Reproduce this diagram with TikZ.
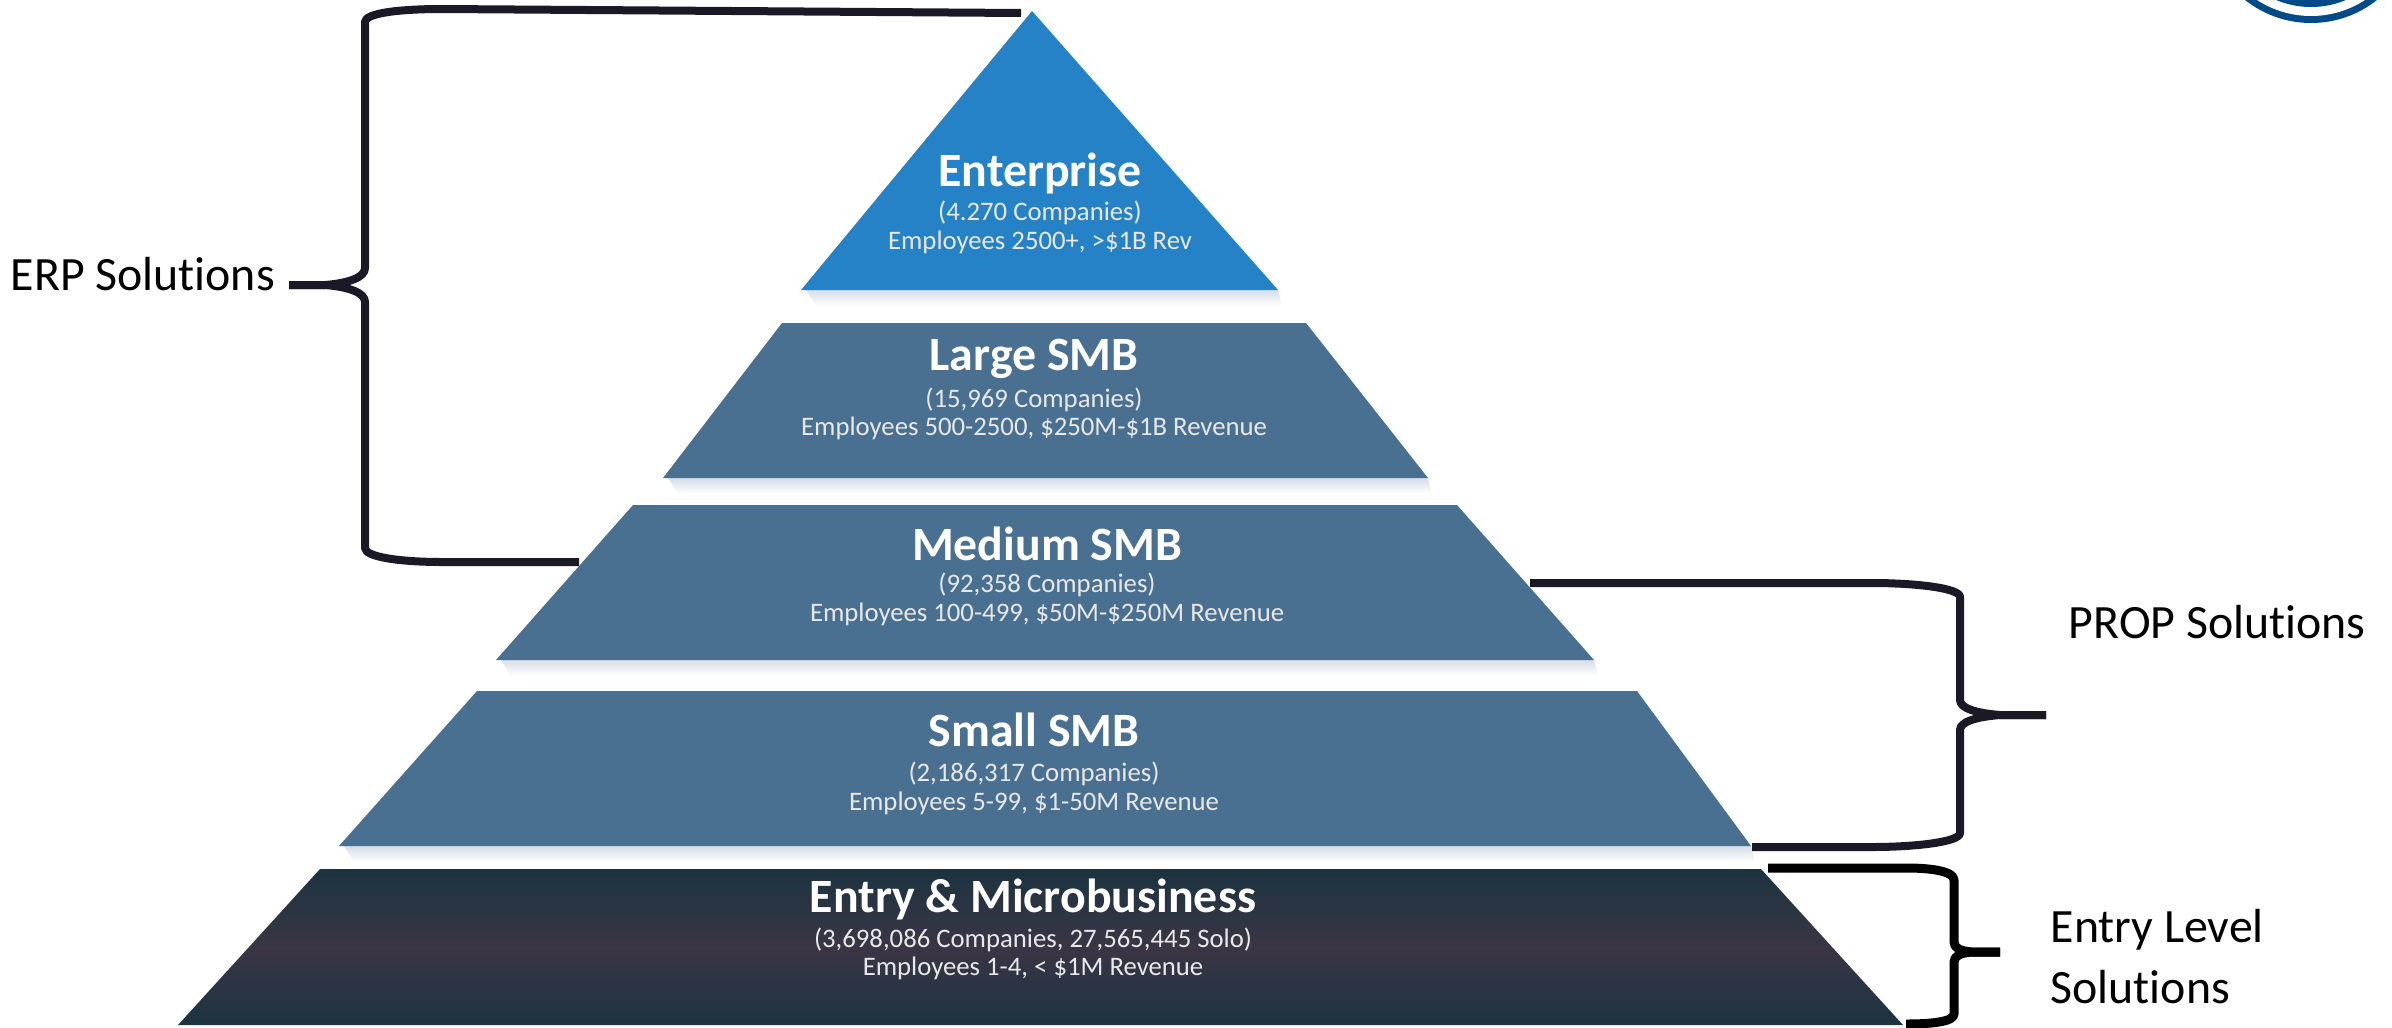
\documentclass[tikz,border=0pt]{standalone}
\usepackage{fontspec}
\setmainfont{Carlito}[Ligatures=CommonOff]
\usetikzlibrary{arrows}
\definecolor{enterpriseblue}{rgb}{0.15,0.51,0.78}
\definecolor{smbblue}{rgb}{0.29,0.44,0.57}
\definecolor{entrydark}{rgb}{0.11,0.20,0.25}
\definecolor{entrymid}{rgb}{0.23,0.21,0.27}
\definecolor{bracedark}{rgb}{0.11,0.10,0.15}
\definecolor{logoblue}{rgb}{0,0.29,0.53}
\definecolor{softshadow}{rgb}{0.84,0.87,0.90}
\definecolor{subgrey}{rgb}{0.91,0.91,0.91}
\tikzset{
  bandtitle/.style={text=white,font=\bfseries\fontsize{13.6pt}{15pt}\selectfont,inner sep=0pt},
  bandtext/.style={text=subgrey,font=\fontsize{7.6pt}{9pt}\selectfont,inner sep=0pt},
  sidelabel/.style={text=black,font=\fontsize{13.6pt}{15pt}\selectfont,inner sep=0pt},
  bracepath/.style={line width=8*0.01cm,color=bracedark,line join=round},
  entrybrace/.style={line width=9*0.01cm,color=black,line join=round},
  bandedge/.style={top color=softshadow,bottom color=white}
}

\begin{document}
\begin{tikzpicture}[line cap=butt,x=0.01cm,y=-0.01cm]
  \useasboundingbox (0,0) rectangle (2392,1027);
  % logo at the corner
  \begin{scope}
    \clip (2150,0) rectangle (2392,60);
    \fill [color=logoblue] (2311,-83) circle (106*0.01cm);
    \fill [color=white] (2311,-83) circle (99*0.01cm);
    \fill [color=logoblue] (2311,-83) circle (90*0.01cm);
  \end{scope}
  % pyramid bands
  \shade [bandedge] (806,290) -- (1278,290) -- (1282,306) -- (816,306) -- cycle;
  \shade [bandedge] (668,478) -- (1428,478) -- (1432,494) -- (678,494) -- cycle;
  \shade [bandedge] (501,660) -- (1594,660) -- (1598,676) -- (511,676) -- cycle;
  \shade [bandedge] (344,846) -- (1751,846) -- (1755,862) -- (354,862) -- cycle;
  \fill [color=enterpriseblue] (1032,11) -- (1278,290) -- (801,290) -- cycle;
  \fill [color=smbblue] (782,323) -- (1306,323) -- (1428,478) -- (663,478) -- cycle;
  \fill [color=smbblue] (633,505) -- (1457,505) -- (1594,660) -- (496,660) -- cycle;
  \fill [color=smbblue] (477,691) -- (1637,691) -- (1751,846) -- (339,846) -- cycle;
  \shade [top color=entrydark,bottom color=entrydark,middle color=entrymid] (320,869) -- (1761,869) -- (1903,1025) -- (178,1025) -- cycle;
  % texts of the bands
  \node [bandtitle] (enterprise) at (1040,173) {Enterprise};
  \node [bandtext] (enterprisecount) at (1040,213) {(4.270 Companies)};
  \node [bandtext] (enterprisesize) at (1040,242) {Employees 2500+, >\$1B Rev};
  \node [bandtitle] (largesmb) at (1034,359) {Large SMB};
  \node [bandtext] (largecount) at (1034,400) {(15,969 Companies)};
  \node [bandtext] (largesize) at (1034,428) {Employees 500-2500, \$250M-\$1B Revenue};
  \node [bandtitle] (mediumsmb) at (1047,544) {Medium SMB};
  \node [bandtext] (mediumcount) at (1047,585) {(92,358 Companies)};
  \node [bandtext] (mediumsize) at (1047,614) {Employees 100-499, \$50M-\$250M Revenue};
  \node [bandtitle] (smallsmb) at (1034,730) {Small SMB};
  \node [bandtext] (smallcount) at (1034,774) {(2,186,317 Companies)};
  \node [bandtext] (smallsize) at (1034,803) {Employees 5-99, \$1-50M Revenue};
  \node [bandtitle] (entrymicro) at (1033,899) {Entry \& Microbusiness};
  \node [bandtext] (entrycount) at (1033,940) {(3,698,086 Companies, 27,565,445 Solo)};
  \node [bandtext] (entrysize) at (1033,968) {Employees 1-4, < \$1M Revenue};
  % side labels
  \node [sidelabel,anchor=west] (erplabel) at (10,274) {ERP Solutions};
  \node [sidelabel,anchor=west] (proplabel) at (2068,622) {PROP Solutions};
  \node [sidelabel,anchor=west] (entrylabel) at (2050,930) {Entry Level};
  \node [sidelabel,anchor=west] (solutionslabel) at (2050,987) {Solutions};
  % brace ends
  \coordinate (erptop) at (1021,13);
  \coordinate (erptip) at (289,285);
  \coordinate (erpbottom) at (579,562);
  \coordinate (proptop) at (1530,583);
  \coordinate (proptip) at (2046,715);
  \coordinate (propbottom) at (1752,847);
  \coordinate (entrytop) at (1768,868);
  \coordinate (entrytip) at (2000,952);
  \coordinate (entrybottom) at (1906,1024);
  % braces
  \draw [bracepath] (erptop) -- (442,9) .. controls (400,9) and (365,13) .. (365,22) -- (365,268) .. controls (365,277) and (350,283) .. (325,285) -- (erptip);
  \draw [bracepath] (erpbottom) -- (442,562) .. controls (400,562) and (365,557) .. (365,548) -- (365,302) .. controls (365,293) and (350,287) .. (325,285) -- (erptip);
  \draw [bracepath] (proptop) -- (1872,583) .. controls (1915,583) and (1960,588) .. (1960,597) -- (1960,700) .. controls (1960,708) and (1975,713) .. (2000,715) -- (proptip);
  \draw [bracepath] (propbottom) -- (1872,847) .. controls (1915,847) and (1960,842) .. (1960,833) -- (1960,730) .. controls (1960,722) and (1975,717) .. (2000,715) -- (proptip);
  \draw [entrybrace] (entrytop) -- (1907,868) .. controls (1930,868) and (1954,871) .. (1954,880) -- (1954,942) .. controls (1954,948) and (1960,951) .. (1972,952) -- (entrytip);
  \draw [entrybrace] (entrybottom) .. controls (1930,1024) and (1954,1022) .. (1954,1014) -- (1954,962) .. controls (1954,956) and (1960,953) .. (1972,952) -- (entrytip);
\end{tikzpicture}
\end{document}
